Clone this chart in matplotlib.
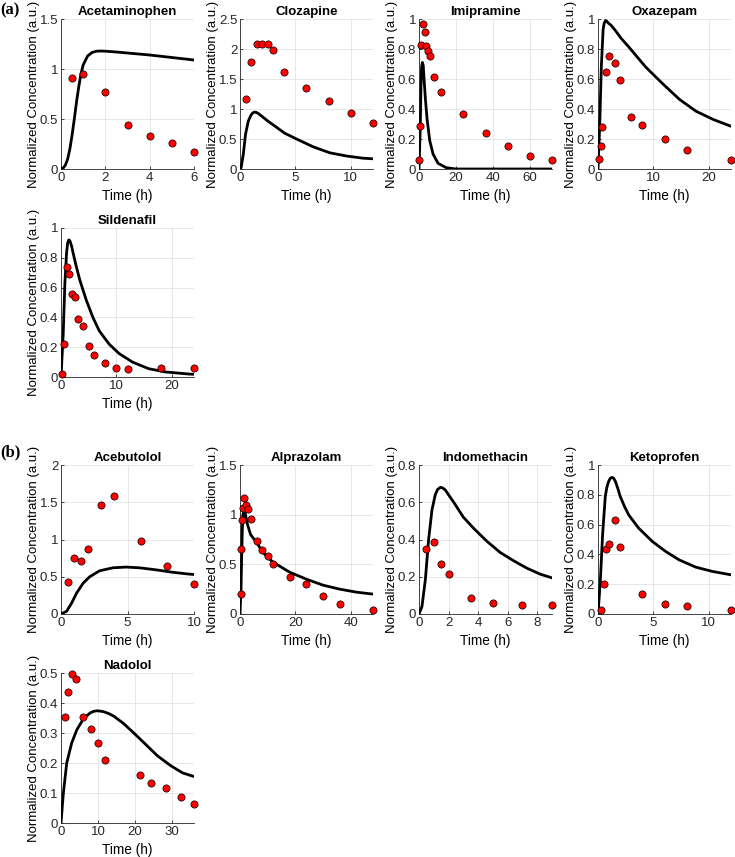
import matplotlib
matplotlib.use("Agg")
import matplotlib.pyplot as plt
from matplotlib.ticker import FormatStrFormatter

plt.rcParams["font.family"] = ["Liberation Sans", "DejaVu Sans"]

# --- Messdaten (Punkte) und Modellkurven, abgelesen aus der Vorlage ---
# (a) Acetaminophen
acet_t = [0.5, 1, 2, 3, 4, 5, 6]
acet_c = [0.91, 0.95, 0.77, 0.44, 0.33, 0.26, 0.17]
acet_fit_t = [0, 0.1, 0.2, 0.3, 0.4, 0.5, 0.6, 0.7, 0.8, 0.9, 1.0, 1.2, 1.4, 1.6, 1.8, 2.0, 2.5, 3, 4, 5, 6]
acet_fit_c = [0, 0.01, 0.04, 0.1, 0.2, 0.34, 0.5, 0.67, 0.82, 0.95, 1.04, 1.13, 1.165, 1.178, 1.18, 1.178,
              1.17, 1.16, 1.14, 1.115, 1.09]

# (a) Clozapine
cloz_t = [0.5, 1, 1.5, 2, 2.5, 3, 4, 6, 8, 10, 12]
cloz_c = [1.17, 1.78, 2.09, 2.08, 2.08, 1.98, 1.62, 1.35, 1.14, 0.94, 0.77]
cloz_fit_t = [0, 0.1, 0.3, 0.5, 0.75, 1.0, 1.15, 1.3, 1.45, 1.65, 2.1, 2.5, 3.0, 4.0, 5.1, 6.6, 8.1, 9.6,
              11.1, 12]
cloz_fit_c = [0, 0.02, 0.25, 0.58, 0.8, 0.9, 0.935, 0.947, 0.945, 0.925, 0.86, 0.8, 0.735, 0.6, 0.5, 0.37,
              0.27, 0.217, 0.18, 0.17]

# (a) Imipramine
imip_t = [0, 0.5, 1, 2, 3, 4, 5, 6, 8, 12, 24, 36, 48, 60, 72]
imip_c = [0.062, 0.287, 0.83, 0.967, 0.913, 0.822, 0.784, 0.753, 0.613, 0.516, 0.364, 0.24, 0.151, 0.084, 0.06]
imip_fit_t = [0, 0.7, 1.06, 1.4, 1.8, 2.3, 2.8, 3.5, 4.4, 5.8, 7.6, 10.3, 14.7, 20, 72]
imip_fit_c = [0, 0.28, 0.55, 0.68, 0.71, 0.69, 0.59, 0.46, 0.33, 0.19, 0.1, 0.038, 0.009, 0.0, 0.0]

# (a) Oxazepam
oxaz_t = [0.25, 0.5, 0.75, 1.5, 2, 3, 4, 6, 8, 12, 16, 24]
oxaz_c = [0.067, 0.156, 0.282, 0.647, 0.756, 0.704, 0.593, 0.344, 0.291, 0.2, 0.124, 0.058]
oxaz_fit_t = [0, 0.3, 0.6, 0.92, 1.1, 1.35, 1.6, 1.8, 2.3, 3.06, 4.2, 5.5, 7.0, 8.6, 11.6, 14.7, 17.7,
              20.8, 24]
oxaz_fit_c = [0, 0.28, 0.68, 0.927, 0.97, 0.99, 0.985, 0.975, 0.96, 0.927, 0.87, 0.816, 0.75, 0.68, 0.571,
              0.464, 0.385, 0.33, 0.285]

# (a) Sildenafil
sild_t = [0.25, 0.5, 1, 1.5, 2, 2.5, 3, 4, 5, 6, 8, 10, 12, 18, 24]
sild_c = [0.018, 0.22, 0.738, 0.689, 0.56, 0.535, 0.39, 0.34, 0.206, 0.145, 0.096, 0.063, 0.051, 0.063, 0.06]
sild_fit_t = [0, 0.4, 0.7, 1.0, 1.2, 1.4, 1.6, 1.9, 2.2, 2.7, 3.4, 4.57, 5.76, 6.9, 8.7, 10.5, 12.9, 15.8,
              18.8, 23, 24]
sild_fit_c = [0, 0.29, 0.63, 0.83, 0.9, 0.92, 0.915, 0.88, 0.83, 0.75, 0.65, 0.515, 0.4, 0.31, 0.22, 0.157,
              0.1, 0.056, 0.034, 0.02, 0.018]

# (b) Acebutolol
aceb_t = [0.5, 1, 1.5, 2, 3, 4, 6, 8, 10]
aceb_c = [0.424, 0.754, 0.71, 0.87, 1.46, 1.59, 0.978, 0.647, 0.4]
aceb_fit_t = [0, 0.42, 0.8, 1.17, 1.67, 2.16, 2.9, 3.9, 4.9, 5.9, 7.1, 8.4, 9.6, 10]
aceb_fit_c = [0, 0.036, 0.147, 0.28, 0.415, 0.5, 0.58, 0.62, 0.63, 0.62, 0.594, 0.56, 0.536, 0.53]

# (b) Alprazolam
alpr_t = [0.25, 0.5, 0.75, 1, 1.5, 2, 3, 4, 6, 8, 10, 12, 18, 24, 30, 36, 48]
alpr_c = [0.2, 0.654, 0.943, 1.07, 1.168, 1.1, 1.054, 0.953, 0.738, 0.641, 0.58, 0.507, 0.376, 0.302,
          0.185, 0.104, 0.04]
alpr_fit_t = [0, 0.36, 0.6, 0.84, 1.08, 1.44, 1.9, 2.6, 3.8, 6, 8, 10, 12, 18, 24, 30, 36, 42, 48]
alpr_fit_c = [0, 0.24, 0.577, 0.846, 1.0, 1.047, 1.013, 0.913, 0.8, 0.72, 0.63, 0.57, 0.52, 0.42, 0.35,
              0.29, 0.25, 0.22, 0.2]

# (b) Indomethacin
indo_t = [0.5, 1, 1.5, 2, 3.5, 5, 7, 9]
indo_c = [0.348, 0.389, 0.271, 0.214, 0.084, 0.061, 0.048, 0.047]
indo_fit_t = [0, 0.2, 0.43, 0.65, 0.88, 1.1, 1.25, 1.44, 1.6, 1.78, 2.0, 2.35, 3.0, 3.7, 4.6, 5.5, 6.4,
              7.3, 8.2, 9]
indo_fit_c = [0, 0.04, 0.184, 0.4, 0.56, 0.64, 0.668, 0.68, 0.677, 0.666, 0.64, 0.6, 0.52, 0.46, 0.39,
              0.33, 0.286, 0.246, 0.214, 0.194]

# (b) Ketoprofen
keto_t = [0.25, 0.5, 0.75, 1, 1.5, 2, 4, 6, 8, 12]
keto_c = [0.029, 0.203, 0.435, 0.469, 0.63, 0.453, 0.136, 0.067, 0.051, 0.029]
keto_fit_t = [0, 0.2, 0.42, 0.66, 0.8, 0.96, 1.1, 1.27, 1.4, 1.57, 1.8, 2.0, 2.4, 2.77, 3.67, 4.9, 6.1, 7.3,
              8.8, 10.3, 12]
keto_fit_c = [0, 0.207, 0.54, 0.79, 0.85, 0.89, 0.91, 0.917, 0.912, 0.89, 0.84, 0.79, 0.72, 0.665, 0.576,
              0.487, 0.42, 0.364, 0.315, 0.286, 0.263]

# (b) Nadolol
nado_t = [1, 2, 3, 4, 6, 8, 10, 12, 21.4, 24.4, 28.3, 32.4, 36]
nado_c = [0.353, 0.437, 0.496, 0.48, 0.354, 0.314, 0.268, 0.211, 0.161, 0.132, 0.116, 0.087, 0.063]
nado_fit_t = [0, 0.64, 1.55, 2.9, 4.3, 6.1, 7.9, 8.8, 9.7, 10.6, 11.5, 12.9, 14.3, 17, 19.7, 22.5, 26.1,
              29.7, 32.9, 35.2, 36]
nado_fit_c = [0, 0.1, 0.2, 0.267, 0.311, 0.348, 0.367, 0.372, 0.374, 0.373, 0.371, 0.365, 0.356, 0.331, 0.3,
              0.267, 0.224, 0.191, 0.167, 0.158, 0.155]

# Panels: (Name, Punkte, Kurve, x-Achse, y-Achse)
panels = [
    ("Acetaminophen", acet_t, acet_c, acet_fit_t, acet_fit_c, (0, 6), [0, 2, 4, 6], (0, 1.5), 0.5),
    ("Clozapine", cloz_t, cloz_c, cloz_fit_t, cloz_fit_c, (0, 12), [0, 5, 10], (0, 2.5), 0.5),
    ("Imipramine", imip_t, imip_c, imip_fit_t, imip_fit_c, (0, 72), [0, 20, 40, 60], (0, 1), 0.2),
    ("Oxazepam", oxaz_t, oxaz_c, oxaz_fit_t, oxaz_fit_c, (0, 24), [0, 10, 20], (0, 1), 0.2),
    ("Sildenafil", sild_t, sild_c, sild_fit_t, sild_fit_c, (0, 24), [0, 10, 20], (0, 1), 0.2),
    ("Acebutolol", aceb_t, aceb_c, aceb_fit_t, aceb_fit_c, (0, 10), [0, 5, 10], (0, 2), 0.5),
    ("Alprazolam", alpr_t, alpr_c, alpr_fit_t, alpr_fit_c, (0, 48), [0, 20, 40], (0, 1.5), 0.5),
    ("Indomethacin", indo_t, indo_c, indo_fit_t, indo_fit_c, (0, 9), [0, 2, 4, 6, 8], (0, 0.8), 0.2),
    ("Ketoprofen", keto_t, keto_c, keto_fit_t, keto_fit_c, (0, 12), [0, 5, 10], (0, 1), 0.2),
    ("Nadolol", nado_t, nado_c, nado_fit_t, nado_fit_c, (0, 36), [0, 10, 20, 30], (0, 0.5), 0.1),
]

# Achsenpositionen in Pixeln (links, oben, unten)
W, H = 735, 857
lefts = [61, 240, 419, 598]
rows = [(19, 169), (228, 377), (465, 614), (673, 823)]
slots = [(0, 0), (0, 1), (0, 2), (0, 3), (1, 0),
         (2, 0), (2, 1), (2, 2), (2, 3), (3, 0)]
ax_w = 133

fig = plt.figure(figsize=(W / 100, H / 100), dpi=100)
dark = "#262626"

for (name, t, c, ft, fc, xlim, xticks, ylim, ystep), (r, col) in zip(panels, slots):
    top, bottom = rows[r]
    ax = fig.add_axes([lefts[col] / W, 1 - bottom / H, ax_w / W, (bottom - top) / H])
    ax.plot(ft, fc, color="black", linewidth=2.0, zorder=3, solid_joinstyle="round")
    ax.plot(t, c, linestyle="none", marker="o", markersize=5.2, markerfacecolor="#ff0000",
            markeredgecolor="black", markeredgewidth=0.5, clip_on=False, zorder=4)
    ax.set_xlim(*xlim)
    ax.set_ylim(*ylim)
    ax.set_xticks(xticks)
    n = int(round((ylim[1] - ylim[0]) / ystep))
    ax.set_yticks([round(ylim[0] + i * ystep, 3) for i in range(n + 1)])
    ax.yaxis.set_major_formatter(FormatStrFormatter("%g"))
    ax.xaxis.set_major_formatter(FormatStrFormatter("%g"))
    ax.grid(True, color="#e3e3e3", linewidth=0.6)
    ax.set_axisbelow(True)
    for s in ["top", "right"]:
        ax.spines[s].set_visible(False)
    for s in ["left", "bottom"]:
        ax.spines[s].set_color(dark)
        ax.spines[s].set_linewidth(0.6)
    ax.tick_params(direction="in", length=2.5, width=0.6, colors=dark, labelsize=9.5, pad=2)
    ax.set_title(name, fontsize=9.5, fontweight="bold", pad=3)
    ax.set_xlabel("Time (h)", fontsize=9.8, labelpad=3.5)
    ax.set_ylabel("Normalized Concentration (a.u.)", fontsize=9.5)
    ax.yaxis.set_label_coords(-0.155, 0.5)

# Teilbild-Beschriftungen
fig.text(0, 1 - 10 / H, "(a)", fontsize=12, fontweight="bold", family="Liberation Serif", va="center")
fig.text(0, 1 - 452 / H, "(b)", fontsize=12, fontweight="bold", family="Liberation Serif", va="center")

fig.savefig("out.png", dpi=100)
